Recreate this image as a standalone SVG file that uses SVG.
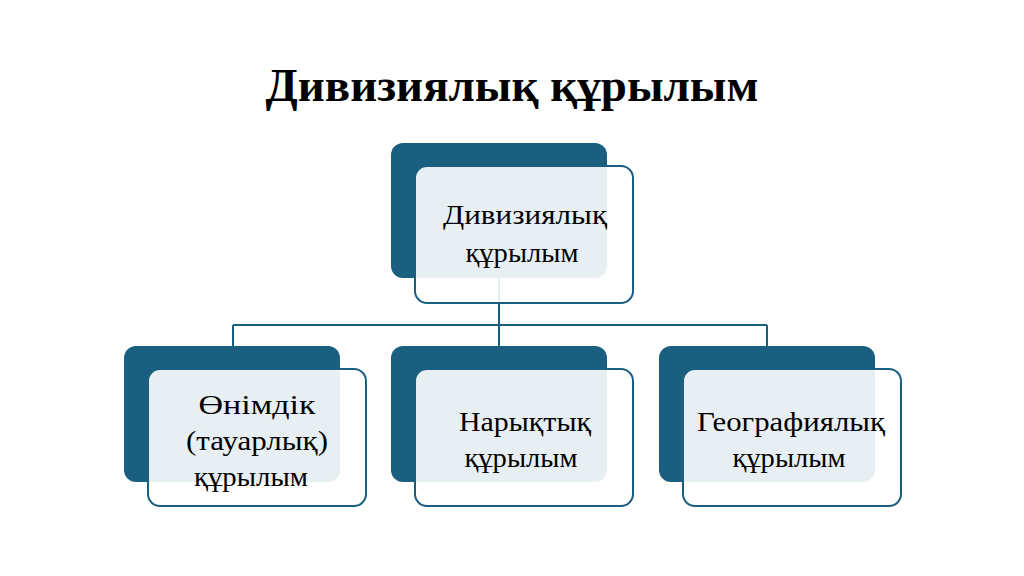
<svg xmlns="http://www.w3.org/2000/svg" width="1024" height="576" viewBox="0 0 1024 576">
<style>
.back{fill:#1a5f80;}
.front{fill:#ffffff;fill-opacity:0.9;stroke:#1a5f80;stroke-width:2;}
.lbl{font-family:"Liberation Serif","Times New Roman",serif;font-size:28px;fill:#000;text-anchor:middle;}
.title{font-family:"Liberation Serif","Times New Roman",serif;font-size:46px;font-weight:bold;fill:#000;text-anchor:middle;}
.conn{fill:none;stroke:#1a5f80;stroke-width:2;}
</style>
<rect width="1024" height="576" fill="#ffffff"/>
<text class="title" x="512" y="101" textLength="493" lengthAdjust="spacingAndGlyphs">Дивизиялық құрылым</text>
<g id="connectors">
<path class="conn" d="M499 278 V325 M233 325 H767 M233 325 V346 M499 325 V346 M767 325 V346"/>
</g>
<g id="node-top">
<rect class="back" x="391" y="143" width="216" height="135" rx="12"/>
<rect class="front" x="415" y="166" width="218" height="137" rx="12"/>
<text class="lbl" x="525" y="224" textLength="164" lengthAdjust="spacingAndGlyphs">Дивизиялық</text>
<text class="lbl" x="522" y="262" textLength="113" lengthAdjust="spacingAndGlyphs">құрылым</text>
</g>
<g id="node-product">
<rect class="back" x="124" y="346" width="216" height="136" rx="12"/>
<rect class="front" x="148" y="369" width="218" height="137" rx="12"/>
<text class="lbl" x="257" y="414" textLength="117" lengthAdjust="spacingAndGlyphs">Өнімдік</text>
<text class="lbl" x="257" y="450" textLength="142" lengthAdjust="spacingAndGlyphs">(тауарлық)</text>
<text class="lbl" x="251" y="486" textLength="114" lengthAdjust="spacingAndGlyphs">құрылым</text>
</g>
<g id="node-market">
<rect class="back" x="391" y="346" width="216" height="136" rx="12"/>
<rect class="front" x="415" y="369" width="218" height="137" rx="12"/>
<text class="lbl" x="525" y="431" textLength="132" lengthAdjust="spacingAndGlyphs">Нарықтық</text>
<text class="lbl" x="521" y="467" textLength="113" lengthAdjust="spacingAndGlyphs">құрылым</text>
</g>
<g id="node-geo">
<rect class="back" x="659" y="346" width="216" height="136" rx="12"/>
<rect class="front" x="683" y="369" width="218" height="137" rx="12"/>
<text class="lbl" x="791" y="431" textLength="188" lengthAdjust="spacingAndGlyphs">Географиялық</text>
<text class="lbl" x="789" y="467" textLength="113" lengthAdjust="spacingAndGlyphs">құрылым</text>
</g>
</svg>
